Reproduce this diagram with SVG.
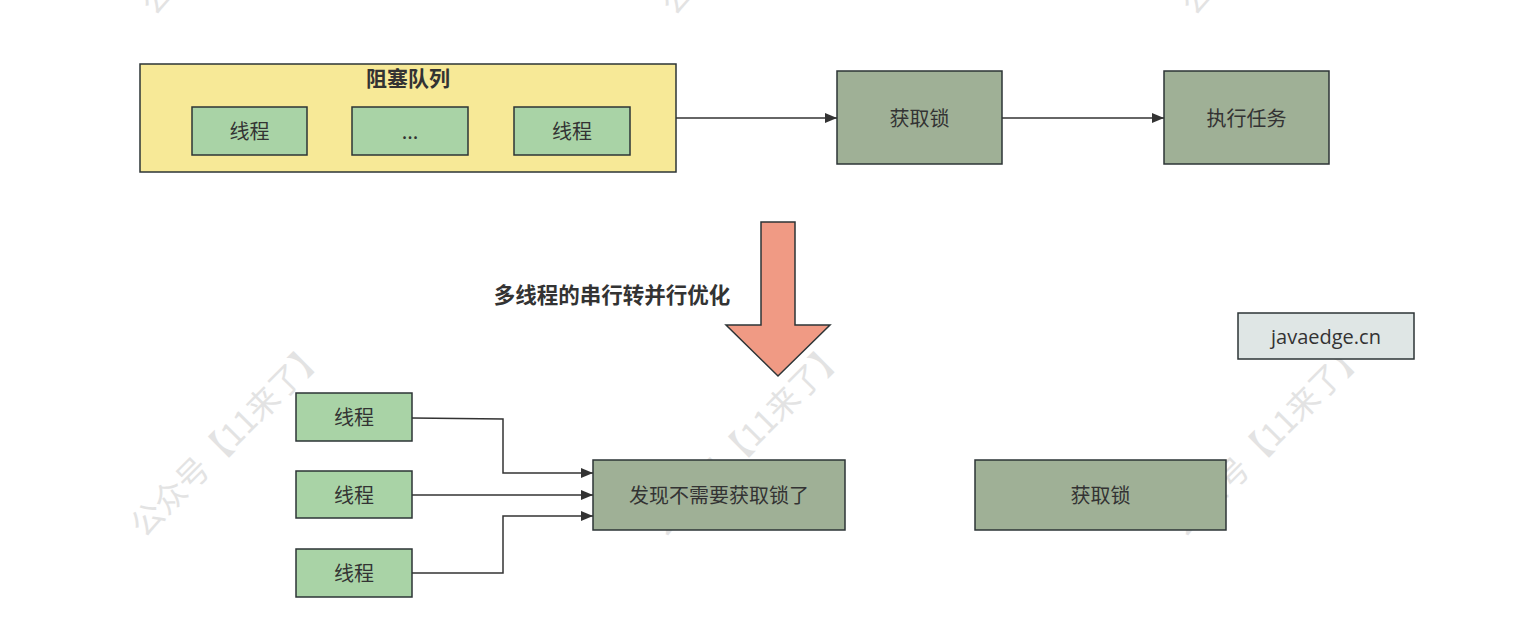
<svg xmlns="http://www.w3.org/2000/svg" width="1532" height="644" viewBox="0 0 1532 644">
<defs>
<style>
.wm{font-family:"Noto Sans CJK SC","Noto Sans",sans-serif;font-size:32px;fill:#e3e3e3;text-anchor:middle;dominant-baseline:central}
.t{font-family:"Noto Sans CJK SC","Noto Sans",sans-serif;font-size:20px;fill:#333;text-anchor:middle;dominant-baseline:central}
.b{font-weight:bold}
.thread{fill:#a9d3a6;stroke:#2d3436;stroke-width:1.5}
.dark{fill:#9fb096;stroke:#2d3436;stroke-width:1.5}
.edge{fill:none;stroke:#333;stroke-width:1.5}
</style>
<marker id="ah" viewBox="0 0 12 10" refX="12" refY="5" markerWidth="12" markerHeight="10" markerUnits="userSpaceOnUse" orient="auto">
<path d="M0,0 L12,5 L0,10 z" fill="#333"/>
</marker>
</defs>
<rect width="1532" height="644" fill="#fff"/>
<g id="watermarks">
<text class="wm" transform="rotate(-45 226 437)" x="226" y="437">公众号【11来了】</text>
<text class="wm" transform="rotate(-45 746 437)" x="746" y="437">公众号【11来了】</text>
<text class="wm" transform="rotate(-45 1266 437)" x="1266" y="437">公众号【11来了】</text>
<text class="wm" transform="rotate(-45 236 -85)" x="236" y="-85">公众号【11来了】</text>
<text class="wm" transform="rotate(-45 756 -85)" x="756" y="-85">公众号【11来了】</text>
<text class="wm" transform="rotate(-45 1276 -85)" x="1276" y="-85">公众号【11来了】</text>
</g>
<g id="connectors">
<path class="edge" d="M676,118 L837,118" marker-end="url(#ah)"/>
<path class="edge" d="M1002,118 L1164,118" marker-end="url(#ah)"/>
<path class="edge" d="M412,418 L503,419 L503,473 L593,473" marker-end="url(#ah)"/>
<path class="edge" d="M412,495 L593,495" marker-end="url(#ah)"/>
<path class="edge" d="M412,573 L503,573 L503,516 L593,516" marker-end="url(#ah)"/>
</g>
<g id="queue">
<rect x="140" y="64" width="536" height="108" fill="#f7e997" stroke="#2d3436" stroke-width="1.5"/>
<text class="t b" x="408" y="77" style="font-size:21px">阻塞队列</text>
</g>
<g id="q-thread1"><rect class="thread" x="192" y="107" width="115" height="48"/><text class="t" x="249.5" y="130">线程</text></g>
<g id="q-dots"><rect class="thread" x="352" y="107" width="116" height="48"/><text class="t" x="410" y="130">...</text></g>
<g id="q-thread2"><rect class="thread" x="514" y="107" width="116" height="48"/><text class="t" x="572" y="130">线程</text></g>
<g id="lock1"><rect class="dark" x="837" y="71" width="165" height="93"/><text class="t" x="919.5" y="117">获取锁</text></g>
<g id="task"><rect class="dark" x="1164" y="71" width="165" height="93"/><text class="t" x="1246.5" y="117">执行任务</text></g>
<g id="big-arrow">
<path d="M761,222 L795,222 L795,325 L830,325 L778,376 L726,325 L761,325 Z" fill="#f09a84" stroke="#2d3436" stroke-width="1.5"/>
</g>
<g id="label"><text class="t b" x="612" y="293" style="font-size:21.5px">多线程的串行转并行优化</text></g>
<g id="site"><rect x="1238" y="313" width="176" height="46" fill="#dfe6e5" stroke="#2d3436" stroke-width="1.5"/><text class="t" x="1326" y="336" style="font-family:'Open Sans','Noto Sans',sans-serif">javaedge.cn</text></g>
<g id="thread-a"><rect class="thread" x="296" y="393" width="116" height="48"/><text class="t" x="354" y="416">线程</text></g>
<g id="thread-b"><rect class="thread" x="296" y="471" width="116" height="47"/><text class="t" x="354" y="494">线程</text></g>
<g id="thread-c"><rect class="thread" x="296" y="549" width="116" height="48"/><text class="t" x="354" y="572">线程</text></g>
<g id="no-lock"><rect class="dark" x="593" y="460" width="252" height="70"/><text class="t" x="719" y="494">发现不需要获取锁了</text></g>
<g id="lock2"><rect class="dark" x="975" y="460" width="251" height="70"/><text class="t" x="1100.5" y="494">获取锁</text></g>
</svg>
